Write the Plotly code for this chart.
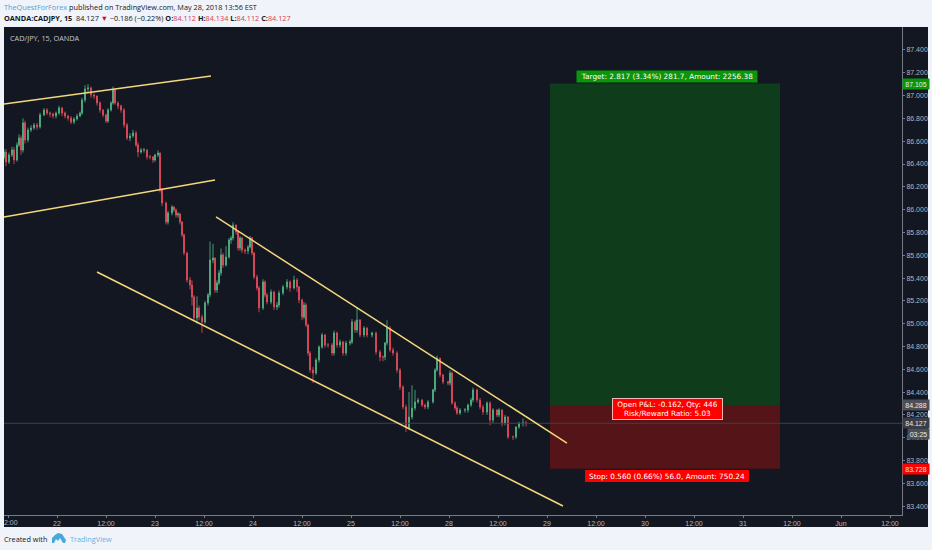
import plotly.graph_objects as go

# 15m CAD/JPY, bar numbers along the time axis (one session is drawn as 98 bars)
bar_no = [
    0, 2, 5, 8, 10, 13, 15, 17, 19, 21,
    24, 27, 30, 33, 36, 40, 43, 46, 49, 52,
    55, 58, 61, 64, 67, 70, 73, 76, 78, 81,
    84, 87, 90, 93, 96, 99, 102, 104, 107, 109,
    111, 114, 117, 120, 123, 126, 129, 132, 134, 137,
    140, 143, 146, 149, 151, 154, 156, 158, 162, 164,
    168, 170, 172, 174, 176, 178, 180, 183, 186, 188,
    190, 193, 195, 198, 201, 204, 206, 209, 211, 213,
    215, 217, 219, 222, 225, 227, 229, 232, 234, 236,
    238, 241, 244, 246, 248, 250, 253, 255, 259, 261,
    263, 267, 270, 273, 275, 279, 283, 286, 290, 293,
    295, 298, 300, 302, 304, 306, 309, 312, 315, 318,
    321, 324, 328, 330, 333, 336, 339, 342, 346, 348,
    351, 353, 356, 360, 363, 368, 372, 376, 379, 381,
    383, 386, 389, 393, 396, 399, 402, 405, 408, 411,
    414, 418, 421, 424, 429, 431, 433, 436, 439, 444,
    446, 448, 451, 453, 456, 461, 464, 467, 469, 473,
    476, 479, 483, 486, 489, 493, 495, 498, 501, 504,
    509, 512, 515, 519, 522,
]
closes = [
    86.505, 86.418, 86.479, 86.523, 86.435, 86.567, 86.628, 86.523, 86.760, 86.611,
    86.698, 86.716, 86.742, 86.725, 86.830, 86.874, 86.847, 86.839, 86.821, 86.847,
    86.891, 86.847, 86.821, 86.803, 86.768, 86.795, 86.821, 86.847, 86.961, 87.058,
    87.067, 87.005, 86.996, 86.935, 86.874, 86.830, 86.777, 86.874, 86.935, 87.049,
    86.935, 86.909, 86.874, 86.742, 86.628, 86.646, 86.672, 86.567, 86.505, 86.523,
    86.523, 86.462, 86.462, 86.435, 86.479, 86.497, 86.172, 86.058, 85.892, 85.971,
    86.023, 85.997, 85.953, 85.962, 85.892, 85.778, 85.620, 85.383, 85.339, 85.234,
    85.050, 85.138, 85.059, 85.015, 85.182, 85.252, 85.559, 85.576, 85.295, 85.357,
    85.445, 85.602, 85.515, 85.585, 85.734, 85.751, 85.865, 85.804, 85.664, 85.751,
    85.646, 85.637, 85.672, 85.751, 85.620, 85.410, 85.313, 85.138, 85.366, 85.252,
    85.190, 85.278, 85.147, 85.164, 85.269, 85.322, 85.366, 85.313, 85.383, 85.322,
    85.208, 85.059, 85.164, 84.989, 84.743, 84.594, 84.568, 84.682, 84.796, 84.901,
    84.813, 84.813, 84.743, 84.919, 84.813, 84.840, 84.743, 84.831, 84.840, 85.015,
    84.945, 85.033, 84.901, 84.962, 84.901, 84.919, 84.752, 84.708, 84.708, 84.831,
    84.962, 84.770, 84.743, 84.594, 84.445, 84.270, 84.086, 84.182, 84.261, 84.314,
    84.331, 84.287, 84.270, 84.314, 84.419, 84.594, 84.699, 84.550, 84.489, 84.480,
    84.568, 84.305, 84.261, 84.217, 84.244, 84.244, 84.287, 84.331, 84.419, 84.331,
    84.270, 84.226, 84.305, 84.156, 84.244, 84.200, 84.244, 84.130, 84.182, 84.007,
    84.007, 84.094, 84.130, 84.130, 84.127,
]
highs = [
    86.53, 86.53, 86.50, 86.55, 86.55, 86.59, 86.66, 86.65, 86.80, 86.78,
    86.72, 86.74, 86.76, 86.76, 86.85, 86.89, 86.89, 86.86, 86.85, 86.86,
    86.91, 86.90, 86.86, 86.83, 86.82, 86.81, 86.84, 86.86, 86.98, 87.09,
    87.10, 87.08, 87.02, 87.00, 86.95, 86.88, 86.84, 86.89, 86.95, 87.08,
    87.06, 86.95, 86.92, 86.89, 86.76, 86.67, 86.70, 86.69, 86.59, 86.54,
    86.54, 86.53, 86.48, 86.47, 86.49, 86.52, 86.50, 86.19, 86.07, 85.99,
    86.04, 86.03, 86.01, 85.98, 85.97, 85.90, 85.79, 85.63, 85.41, 85.38,
    85.25, 85.24, 85.16, 85.08, 85.20, 85.27, 85.72, 85.70, 85.58, 85.38,
    85.47, 85.66, 85.62, 85.68, 85.75, 85.77, 85.89, 85.87, 85.81, 85.77,
    85.76, 85.66, 85.69, 85.77, 85.76, 85.63, 85.43, 85.33, 85.39, 85.38,
    85.27, 85.30, 85.29, 85.19, 85.29, 85.34, 85.39, 85.38, 85.42, 85.40,
    85.33, 85.22, 85.19, 85.18, 85.00, 84.76, 84.62, 84.70, 84.81, 84.92,
    84.91, 84.83, 84.83, 84.94, 84.93, 84.86, 84.85, 84.85, 84.86, 85.04,
    85.03, 85.14, 85.04, 84.98, 84.97, 84.93, 84.93, 84.77, 84.72, 84.84,
    85.03, 84.98, 84.79, 84.76, 84.61, 84.46, 84.29, 84.40, 84.46, 84.42,
    84.35, 84.34, 84.30, 84.33, 84.43, 84.61, 84.72, 84.70, 84.56, 84.50,
    84.59, 84.58, 84.32, 84.28, 84.26, 84.26, 84.30, 84.35, 84.44, 84.43,
    84.35, 84.29, 84.32, 84.32, 84.26, 84.25, 84.26, 84.25, 84.20, 84.19,
    84.02, 84.10, 84.14, 84.17, 84.15,
]
lows = [
    86.44, 86.38, 86.40, 86.46, 86.40, 86.42, 86.55, 86.48, 86.50, 86.58,
    86.59, 86.68, 86.70, 86.70, 86.71, 86.82, 86.83, 86.81, 86.80, 86.80,
    86.83, 86.82, 86.80, 86.78, 86.75, 86.75, 86.78, 86.81, 86.83, 86.94,
    87.03, 86.98, 86.97, 86.91, 86.85, 86.81, 86.76, 86.76, 86.86, 86.92,
    86.92, 86.88, 86.85, 86.72, 86.61, 86.60, 86.63, 86.55, 86.46, 86.49,
    86.50, 86.44, 86.44, 86.41, 86.42, 86.46, 86.15, 86.03, 85.87, 85.87,
    85.95, 85.98, 85.93, 85.93, 85.87, 85.76, 85.60, 85.36, 85.30, 85.16,
    85.02, 85.00, 85.03, 84.92, 85.00, 85.16, 85.23, 85.53, 85.27, 85.27,
    85.34, 85.42, 85.49, 85.50, 85.57, 85.70, 85.73, 85.78, 85.64, 85.64,
    85.62, 85.61, 85.61, 85.66, 85.60, 85.39, 85.29, 85.10, 85.12, 85.23,
    85.17, 85.17, 85.12, 85.12, 85.14, 85.25, 85.30, 85.28, 85.30, 85.28,
    85.18, 85.03, 85.04, 84.97, 84.72, 84.57, 84.48, 84.55, 84.66, 84.78,
    84.79, 84.79, 84.72, 84.72, 84.79, 84.79, 84.72, 84.72, 84.81, 84.82,
    84.92, 84.92, 84.88, 84.88, 84.88, 84.88, 84.73, 84.67, 84.67, 84.68,
    84.81, 84.75, 84.72, 84.57, 84.42, 84.25, 84.05, 84.07, 84.16, 84.24,
    84.30, 84.27, 84.25, 84.25, 84.30, 84.40, 84.58, 84.53, 84.47, 84.46,
    84.46, 84.29, 84.24, 84.20, 84.20, 84.22, 84.22, 84.27, 84.31, 84.31,
    84.25, 84.20, 84.20, 84.11, 84.13, 84.18, 84.18, 84.10, 84.11, 83.99,
    83.98, 83.99, 84.08, 84.10, 84.10,
]
first_open = 86.46

# trend lines: (bar, price) at both ends
trend_bars = [(0, 207), (0, 211), (212, 563), (93, 559)]
trend_prices = [(86.926, 87.172), (85.936, 86.260), (85.936, 83.954), (85.453, 83.402)]

# long position tool
entry_bar = 546
exit_bar = 776
target_price = 87.105
entry_price = 84.288
stop_price = 83.728
last_price = 84.127

time_ticks = [4, 53, 102, 151, 200, 249, 298, 347, 396, 445, 494, 543, 592, 641, 690, 739, 788, 837, 886]
time_labels = ["", "22", "12:00", "23", "12:00", "24", "12:00", "25", "12:00", "28",
               "12:00", "29", "12:00", "30", "12:00", "31", "12:00", "Jun", "12:00"]
price_ticks = [83.4, 83.6, 83.8, 84.0, 84.2, 84.4, 84.6, 84.8, 85.0, 85.2, 85.4, 85.6,
               85.8, 86.0, 86.2, 86.4, 86.6, 86.8, 87.0, 87.2, 87.4]

W, H = 932, 550
L, R, T, B = 4, 902, 27, 515
BG = "#131722"
AXIS = "#787b86"
LABEL = "#b2b5be"
YELLOW = "#f4d77a"
UI_FONT = "Open Sans"
TAG_FONT = "Liberation Sans"
BOX_FONT = "DejaVu Sans"


def px(x):
    return (x - L) / (R - L)


def py(y):
    return (B - y) / (B - T)


def page_text(x, y, text, size=7.3, color="#131722", family=UI_FONT):
    return dict(xref="paper", yref="paper", x=px(x), y=py(y), text=text, showarrow=False,
                xanchor="left", yanchor="middle", align="left", xshift=0, borderpad=0,
                font=dict(family=family, size=size, color=color))


def price_tag(price, text, bg, x=902, width=26):
    return dict(xref="paper", yref="y", x=px(x), y=price, text=text, showarrow=False,
                xanchor="left", yanchor="middle", width=width, height=10, bgcolor=bg, borderpad=0,
                font=dict(family=TAG_FONT, size=7, color="#e8e9ec"))


def box_label(x, price, text, width, height, border=None):
    return dict(xref="paper", yref="y", x=px(x), y=price, text=text, showarrow=False,
                xanchor="center", yanchor="middle", width=width, height=height,
                bgcolor="#ff0000", borderpad=0, bordercolor=border, borderwidth=1 if border else 0,
                font=dict(family=BOX_FONT, size=7.3, color="#ffffff"))


opens = [first_open] + closes[:-1]

fig = go.Figure()
fig.add_trace(go.Candlestick(
    x=bar_no, open=opens, high=highs, low=lows, close=closes,
    increasing=dict(line=dict(color="#53b987", width=0.8), fillcolor="#53b987"),
    decreasing=dict(line=dict(color="#eb4d5c", width=0.8), fillcolor="#eb4d5c"),
    whiskerwidth=0, showlegend=False, hoverinfo="skip",
))

shapes = [
    # dark chart panel also runs behind the axis labels
    dict(type="rect", xref="paper", yref="paper", x0=px(4), x1=px(928), y0=py(527), y1=py(27),
         fillcolor=BG, line_width=0, layer="below"),
    dict(type="rect", x0=entry_bar, x1=exit_bar, y0=entry_price, y1=target_price,
         fillcolor="#0f3d1c", line_width=0, layer="below"),
    dict(type="rect", x0=entry_bar, x1=exit_bar, y0=stop_price, y1=entry_price,
         fillcolor="#551418", line_width=0, layer="below"),
    dict(type="line", xref="paper", x0=0, x1=1, y0=last_price, y1=last_price,
         line=dict(color="#3c404c", width=1)),
    # TradingView logo
    dict(type="path", xref="paper", yref="paper", fillcolor="#45a9dc", line_width=0,
         path=f"M {px(52)} {py(543)} L {px(52)} {py(538)} L {px(55)} {py(535)} L {px(58)} {py(533)} "
              f"L {px(62)} {py(534)} L {px(64)} {py(537)} L {px(66)} {py(540)} L {px(65)} {py(543)} "
              f"L {px(63)} {py(543)} L {px(60)} {py(538)} L {px(58)} {py(541)} L {px(56)} {py(539)} "
              f"L {px(54)} {py(543)} Z"),
]
for (x0, x1), (y0, y1) in zip(trend_bars, trend_prices):
    shapes.append(dict(type="line", x0=x0, x1=x1, y0=y0, y1=y1, line=dict(color=YELLOW, width=1.5)))

red = "#d8404e"
annotations = [
    page_text(3, 7, "<span style='color:#4ba3d9'>TheQuestForForex</span> published on TradingView.com, May 28, 2018 13:56 EST"),
    page_text(3, 18, f"<b>OANDA:CADJPY, 15</b>  84.127 <span style='color:#c8102e'>▼</span> −0.186 (−0.22%) "
                     f"<b>O:</b><span style='color:{red}'>84.112</span> <b>H:</b><span style='color:{red}'>84.134</span> "
                     f"<b>L:</b><span style='color:{red}'>84.112</span> <b>C:</b><span style='color:{red}'>84.127</span>"),
    page_text(9, 38, "CAD/JPY, 15, OANDA", size=7.3, color="#c5c8d0"),
    page_text(3, 539, "Created with", size=7.3),
    page_text(69, 539, "TradingView", size=7.3, color="#5fb3e0"),
    # the first time label is cut by the panel edge, plotly would drop it
    page_text(3, 522, "2:00", size=7, color=LABEL, family=TAG_FONT),
    dict(xref="paper", yref="y", x=px(667), y=87.167, text="Target: 2.817 (3.34%) 281.7, Amount: 2256.38",
         showarrow=False, xanchor="center", yanchor="middle", width=180, height=11, bgcolor="#0a960a", borderpad=0,
         font=dict(family=BOX_FONT, size=7.3, color="#ffffff")),
    box_label(667.5, 84.25, "Open P&amp;L: -0.162, Qty: 446<br>Risk/Reward Ratio: 5.03", 109, 20, border="#f7b6b6"),
    box_label(667, 83.665, "Stop: 0.560 (0.66%) 56.0, Amount: 750.24", 164, 12),
    price_tag(target_price, "87.105", "#0a960a"),
    price_tag(entry_price, "84.288", "#4c4f58"),
    price_tag(last_price, "84.127", "#3a3d47"),
    price_tag(84.033, "03:25", "#4c4f58", x=907, width=21),
    price_tag(stop_price, "83.728", "#ff0000"),
]

fig.update_layout(
    width=W, height=H,
    margin=dict(l=L, r=W - R, t=T, b=H - B, pad=0),
    paper_bgcolor="#f0f3fa", plot_bgcolor=BG,
    shapes=shapes, annotations=annotations, showlegend=False,
    xaxis=dict(range=[0, R - L], tickmode="array", tickvals=time_ticks, ticktext=time_labels,
               rangeslider_visible=False, showgrid=False, zeroline=False, showline=True, linecolor=AXIS,
               ticks="outside", ticklen=2, tickcolor=AXIS, tickangle=0,
               tickfont=dict(family=TAG_FONT, size=7, color=LABEL)),
    yaxis=dict(range=[83.323, 87.601], side="right", tickmode="array", tickvals=price_ticks,
               ticktext=[f"{p:.3f}" for p in price_ticks], showgrid=False, zeroline=False,
               showline=True, linecolor=AXIS, ticks="outside", ticklen=2, tickcolor=AXIS,
               tickfont=dict(family=TAG_FONT, size=7, color=LABEL)),
)

# the page's default body margin would push the chart off the window
fig.write_html("out.html", config=dict(displayModeBar=False), post_script="document.body.style.margin = '0';")
